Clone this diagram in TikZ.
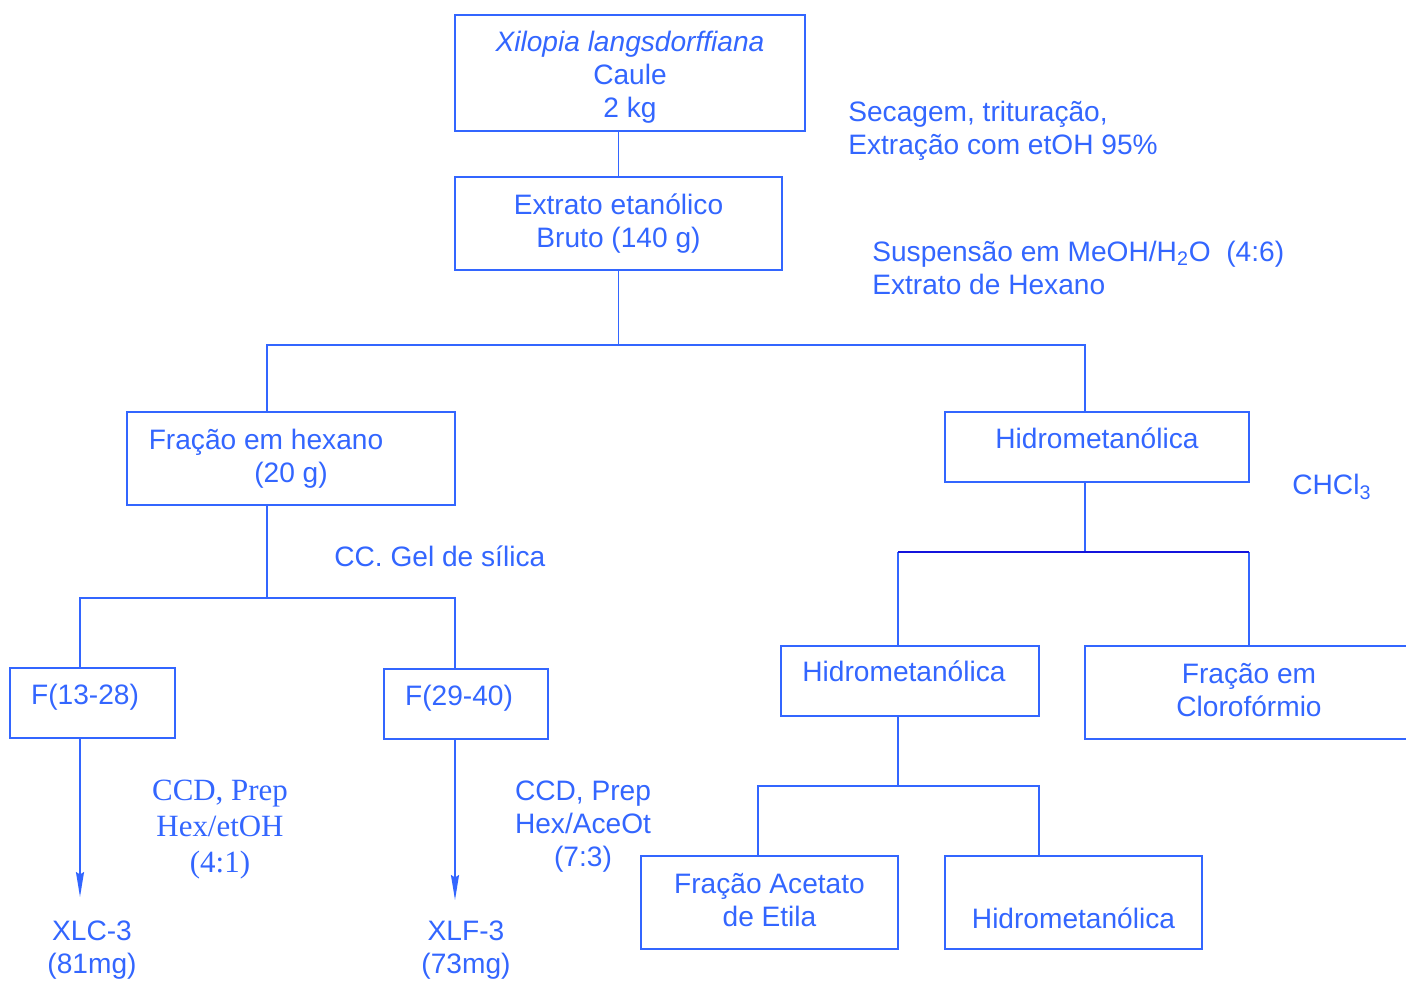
\documentclass[tikz,border=0pt]{standalone}
\usepackage{fontspec}
\setmainfont{Liberation Sans}
\newfontfamily\timesfont{Liberation Serif}
\usetikzlibrary{arrows.meta}
\definecolor{azul}{RGB}{51,102,255}
\definecolor{azulesc}{RGB}{20,20,220}

\begin{document}
\begin{tikzpicture}[x=0.02cm,y=-0.02cm,
  every node/.style={text=azul, font=\fontsize{16}{18.8}\selectfont},
  caixa/.style={draw=azul, line width=1.1pt, align=center, inner sep=0pt},
  linha/.style={draw=azul, line width=1.1pt},
  seta/.style={linha, -{Stealth[length=0.5cm,width=0.16cm,inset=0.05cm]}},
  rotulo/.style={inner sep=0pt, align=left, anchor=west}]

\useasboundingbox (0,0) rectangle (1406,981);

\node [caixa, minimum width=7cm, minimum height=2.32cm] (v1) at (630,73) {\rule{0pt}{16.7pt}\textit{Xilopia langsdorffiana}\\Caule\\2 kg};
\node [caixa, minimum width=6.54cm, minimum height=1.86cm] (v2) at (618.5,223.5) {Extrato etanólico\\Bruto (140 g)};
\node [caixa, minimum width=6.56cm, minimum height=1.86cm] (v3) at (291,458.5) {Fração em hexano\hspace*{1cm}\\(20 g)};
\node [caixa, minimum width=6.08cm, minimum height=1.4cm, text height=10.8pt, text depth=9.1pt] (v4) at (1097,447) {Hidrometanólica};
\node [caixa, minimum width=3.3cm, minimum height=1.4cm, text height=10.8pt, text depth=9.1pt] (v5) at (92.5,703) {F(13-28)\hspace*{0.3cm}};
\node [caixa, minimum width=3.28cm, minimum height=1.4cm, text height=10.8pt, text depth=9.1pt] (v6) at (466,704) {F(29-40)\hspace*{0.28cm}};
\node [caixa, minimum width=5.16cm, minimum height=1.4cm, text height=10.8pt, text depth=10.2pt] (v7) at (910,681) {Hidrometanólica\hspace*{0.24cm}};
\node [caixa, minimum width=6.56cm, minimum height=1.86cm] (v8) at (1249,692.5) {Fração em\\Clorofórmio\rule[-3pt]{0pt}{1pt}};
\node [caixa, minimum width=5.14cm, minimum height=1.86cm] (v9) at (769.5,902.5) {Fração Acetato\\de Etila\rule[-3.4pt]{0pt}{1pt}};
\node [caixa, minimum width=5.14cm, minimum height=1.86cm, text height=29.6pt, text depth=0pt] (v10) at (1073.5,902.5) {Hidrometanólica};

\node [rotulo] (v11) at (848,130.5) {Secagem, trituração,\\Extração com etOH 95\%};
\node [rotulo] (v12) at (872,267.5) {Suspensão em MeOH/H\textsubscript{2}O\ \ (4:6)\\Extrato de Hexano};
\node [rotulo] (v13) at (334,556) {CC. Gel de sílica};
\node [rotulo] (v14) at (1292,487) {CHCl\textsubscript{3}};
\node [align=center, inner sep=0pt, font=\timesfont\fontsize{17.6}{20.5}\selectfont] (v15) at (220,830) {CCD, Prep\\Hex/etOH\\(4:1)};
\node [align=center, inner sep=0pt] (v16) at (583,826.5) {CCD, Prep\\Hex/AceOt\\(7:3)};
\node [align=center, inner sep=0pt] (v17) at (92,950) {XLC-3\\(81mg)};
\node [align=center, inner sep=0pt] (v18) at (466,950) {XLF-3\\(73mg)};

\coordinate (a1) at (267,345);
\coordinate (a2) at (1085,345);
\coordinate (b1) at (80,598);
\coordinate (b2) at (455,598);
\coordinate (c1) at (898,552);
\coordinate (c2) at (1249,552);
\coordinate (d1) at (758,786);
\coordinate (d2) at (1039,786);
\coordinate (e1) at (80,897);
\coordinate (e2) at (455,900);

\draw [linha] (v2.north |- v1.south) -- (v2.north);
\draw [linha] (v2.south) -- (v2.south |- a1);
\draw [linha] (a1 |- v3.north) -- (a1) -- (a2) -- (a2 |- v4.north);
\draw [linha] (a1 |- v3.south) -- (a1 |- b1);
\draw [linha] (b1 |- v5.north) -- (b1) -- (b2) -- (b2 |- v6.north);
\draw [seta] (b1 |- v5.south) -- (e1);
\draw [seta] (b2 |- v6.south) -- (e2);
\draw [linha] (a2 |- v4.south) -- (a2 |- c1);
\draw [linha] (c1 |- v7.north) -- (c1);
\draw [linha] (c2) -- (c2 |- v8.north);
\draw [linha, draw=azulesc] (c1) -- (c2);
\draw [linha] (c1 |- v7.south) -- (c1 |- d1);
\draw [linha] (d1 |- v9.north) -- (d1) -- (d2) -- (d2 |- v10.north);
\end{tikzpicture}
\end{document}
